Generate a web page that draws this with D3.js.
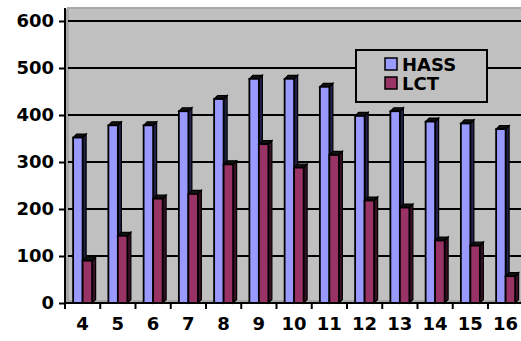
<!DOCTYPE html>
<html><head><meta charset="utf-8">
<script src="https://cdn.jsdelivr.net/npm/d3@7"></script>
<style>html,body{margin:0;padding:0;background:#fff;overflow:hidden}</style>
</head><body>
<svg id="c" width="521" height="341"></svg>
<script>
const categories = ["4","5","6","7","8","9","10","11","12","13","14","15","16"];
const hass = [352, 378, 378, 408, 434, 477, 477, 460, 398, 408, 386, 382, 370];
const lct  = [90, 143, 222, 232, 295, 338, 288, 315, 218, 203, 133, 122, 57];
const yTicks = [0, 100, 200, 300, 400, 500, 600];
const seriesNames = ["HASS", "LCT"];
const seriesColors = ["#9999FF", "#993366"];
const sideColors = ["#22224a", "#3a1026"];

const svg = d3.select("#c");
const font = "'DejaVu Sans', sans-serif";
const y = d3.scaleLinear().domain([0, 600]).range([303, 21]);
const x = d3.scaleBand().domain(categories).range([65, 65 + 13 * 35.25]).padding(0);
const y0 = y(0);

// walls
svg.append("rect").attr("x", 67).attr("y", 7).attr("width", 454).attr("height", y0 - 7).attr("fill", "#C0C0C0");
svg.append("rect").attr("x", 67).attr("y", 7).attr("width", 454).attr("height", 2).attr("fill", "#a9a9a9");
svg.append("rect").attr("x", 65).attr("y", 9).attr("width", 4).attr("height", y0 - 9).attr("fill", "#a6a6a6");
svg.append("rect").attr("x", 65).attr("y", y0 - 3).attr("width", 456).attr("height", 3).attr("fill", "#a6a6a6");

// gridlines
svg.append("g").selectAll("line").data(yTicks.filter(d => d > 0)).join("line")
  .attr("x1", 68).attr("x2", 521).attr("y1", d => y(d)).attr("y2", d => y(d))
  .attr("stroke", "#000").attr("stroke-width", 2);

// bars
const d = 3.5;
function drawBar(g, x0, w, v, i) {
  const yt = y(v);
  g.append("polygon")
    .attr("points", [[x0 + w, yt], [x0 + w + d, yt - d], [x0 + w + d, y0 - d], [x0 + w, y0]].map(p => p.join(",")).join(" "))
    .attr("fill", sideColors[i]).attr("stroke", "#000").attr("stroke-width", 1.2);
  g.append("polygon")
    .attr("points", [[x0, yt], [x0 + d, yt - d], [x0 + w + d, yt - d], [x0 + w, yt]].map(p => p.join(",")).join(" "))
    .attr("fill", "#111").attr("stroke", "#000").attr("stroke-width", 1.2);
  g.append("rect").attr("x", x0).attr("y", yt).attr("width", w).attr("height", y0 - yt)
    .attr("fill", seriesColors[i]).attr("stroke", "#000").attr("stroke-width", 1.8);
}
const bars = svg.append("g");
categories.forEach((c, k) => {
  const cx = x(c) + x.bandwidth() / 2;
  drawBar(bars, cx - 9.5, 9.5, hass[k], 0);
  drawBar(bars, cx, 9.5, lct[k], 1);
});

// y axis
const yAxis = svg.append("g").attr("transform", "translate(65,0)")
  .call(d3.axisLeft(y).tickValues(yTicks).tickSize(6).tickPadding(5).tickFormat(d3.format("d")));
yAxis.select(".domain").attr("stroke", "#000").attr("stroke-width", 2).attr("d", `M0,8V${y0}`);
yAxis.selectAll(".tick line").attr("stroke", "#000").attr("stroke-width", 2);
yAxis.selectAll("text").attr("font-family", font).attr("font-weight", "bold").attr("font-size", 18).attr("fill", "#000");

// x axis
const xAxis = svg.append("g").attr("transform", `translate(0,${y0})`)
  .call(d3.axisBottom(x).tickSize(0).tickPadding(14));
xAxis.select(".domain").attr("stroke", "#000").attr("stroke-width", 2).attr("d", "M65,0H521");
xAxis.selectAll("text").attr("font-family", font).attr("font-weight", "bold").attr("font-size", 18).attr("fill", "#000");
xAxis.append("g").selectAll("line").data(categories).join("line")
  .attr("x1", c => x(c)).attr("x2", c => x(c)).attr("y1", 0).attr("y2", 6)
  .attr("stroke", "#000").attr("stroke-width", 2);

// legend
const lg = svg.append("g");
lg.append("rect").attr("x", 356).attr("y", 50).attr("width", 131).attr("height", 52)
  .attr("fill", "#C0C0C0").attr("stroke", "#000").attr("stroke-width", 2);
seriesNames.forEach((n, i) => {
  lg.append("rect").attr("x", 385).attr("y", 58 + i * 19).attr("width", 12).attr("height", 12)
    .attr("fill", seriesColors[i]).attr("stroke", "#000").attr("stroke-width", 1.5);
  lg.append("text").attr("x", 402).attr("y", 70.5 + i * 19).text(n)
    .attr("font-family", font).attr("font-weight", "bold").attr("font-size", 18).attr("fill", "#000");
});
</script>
</body></html>
